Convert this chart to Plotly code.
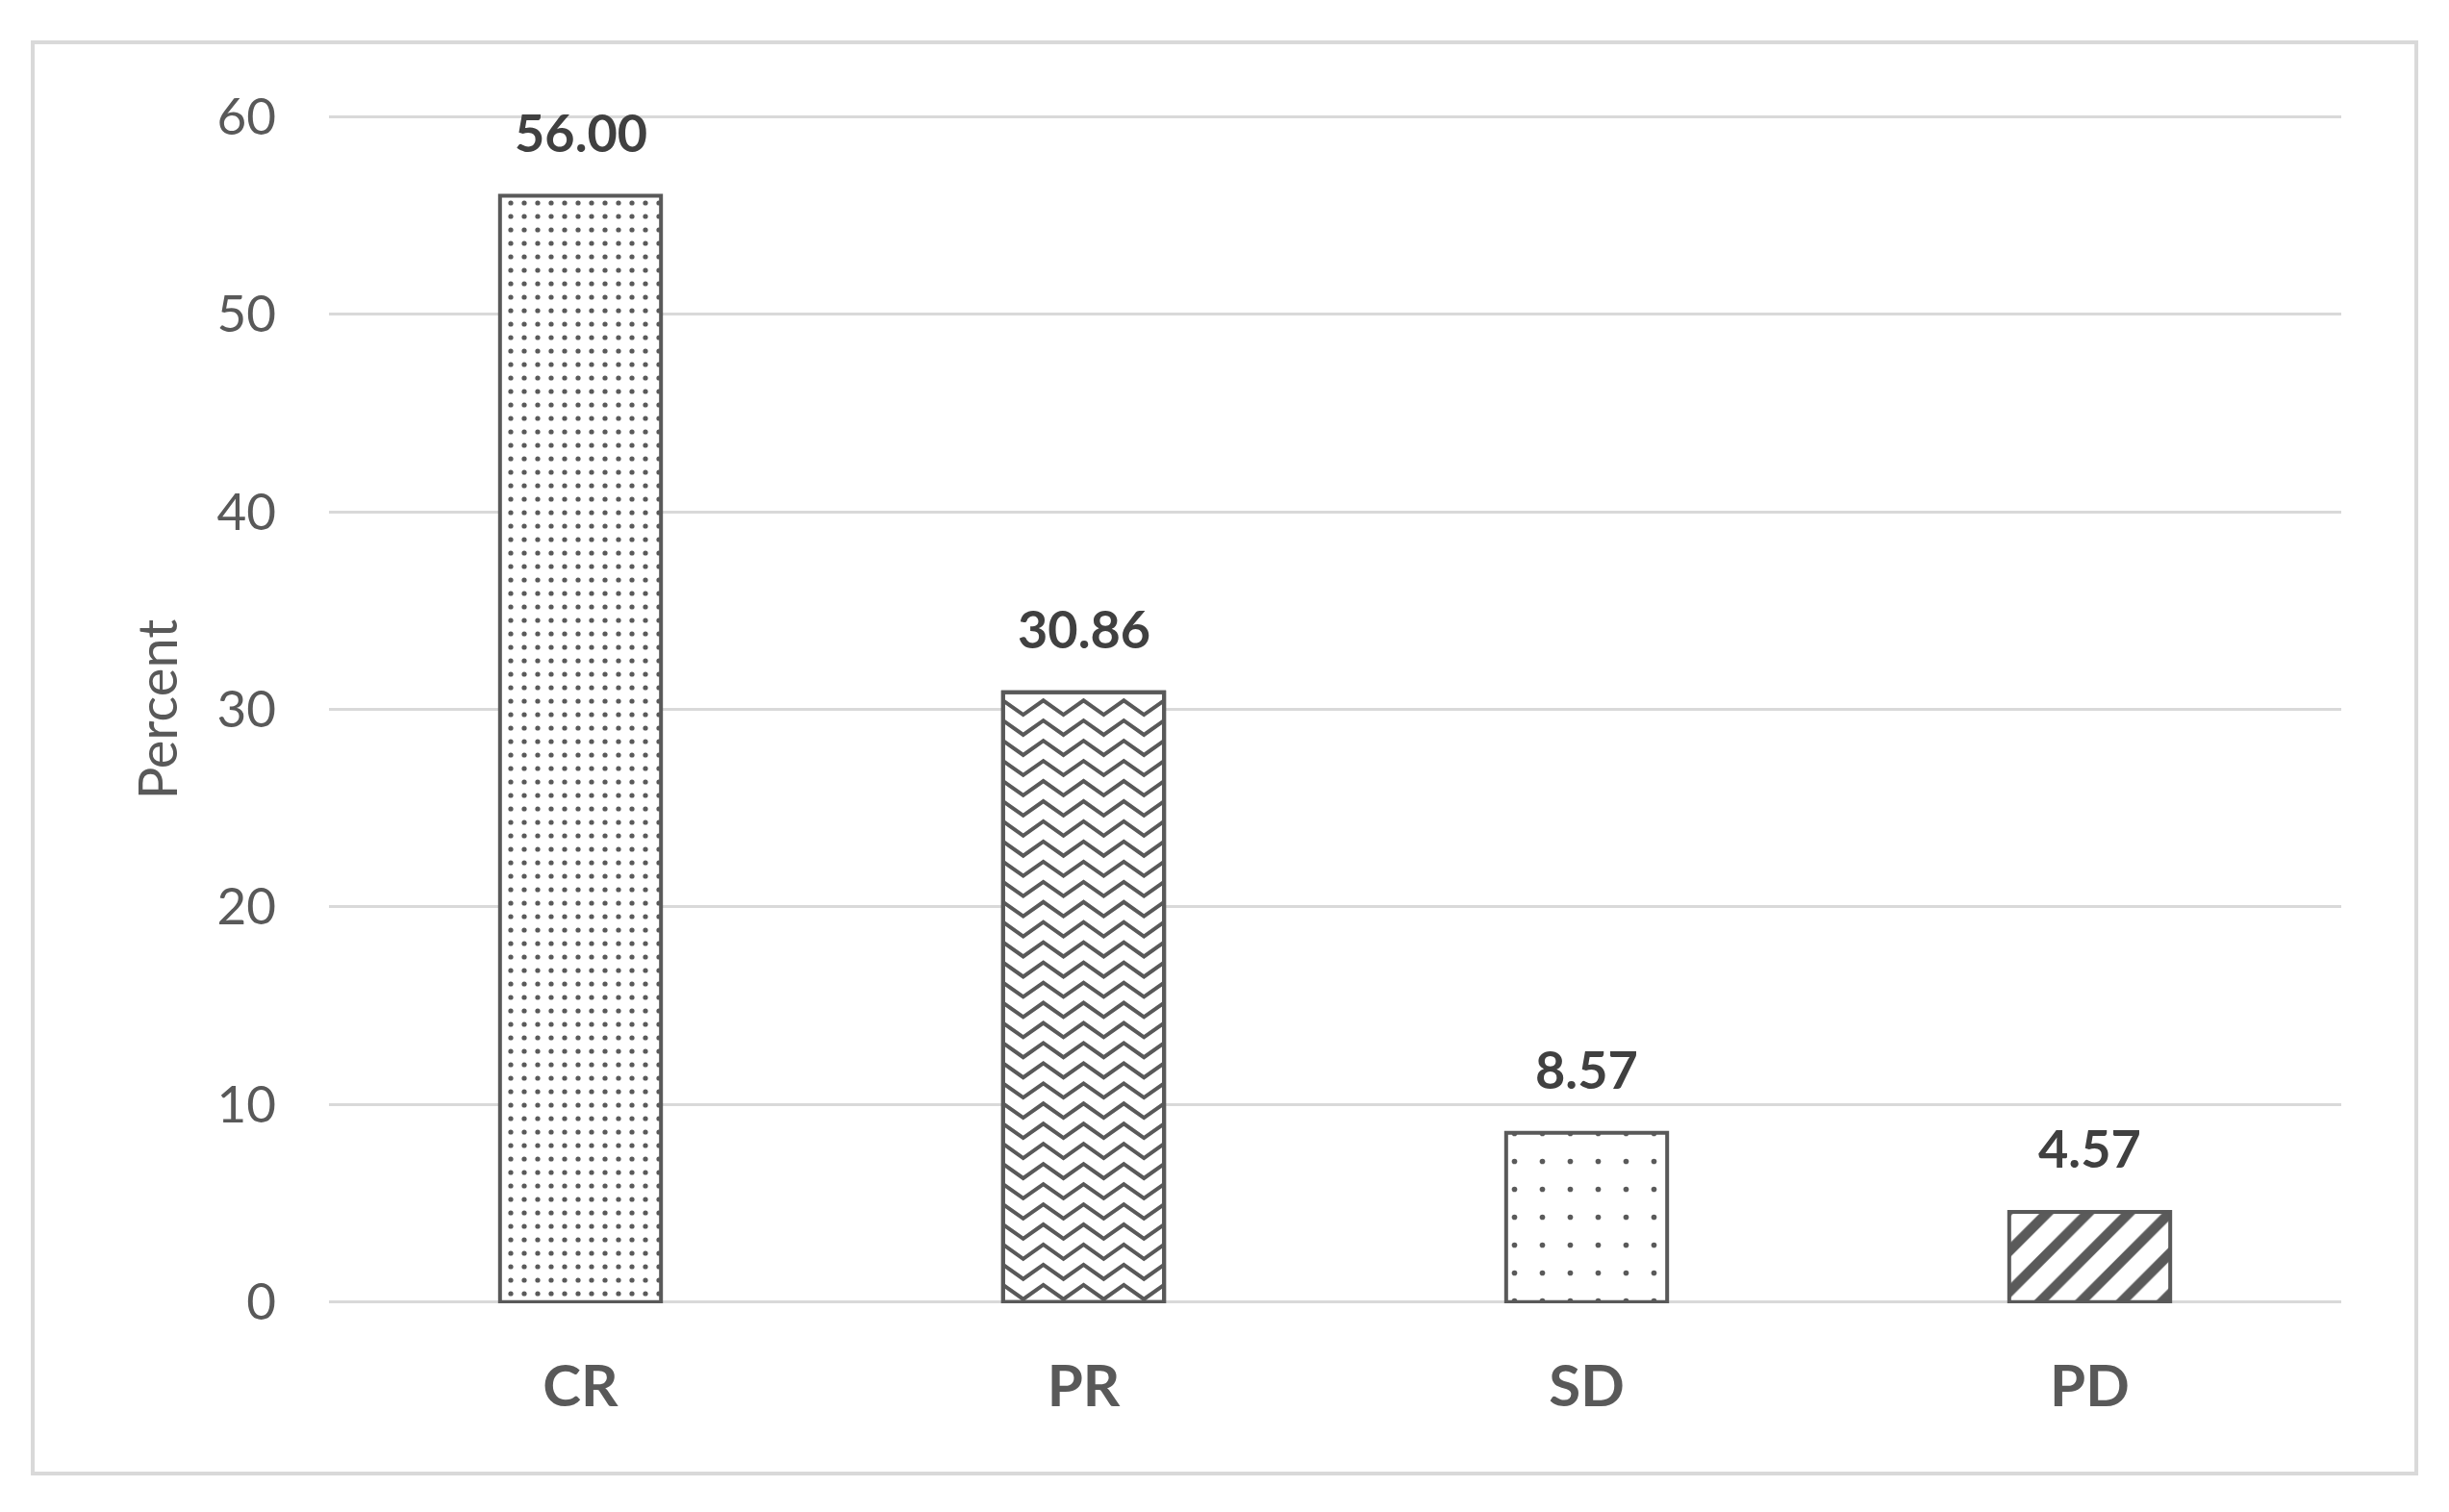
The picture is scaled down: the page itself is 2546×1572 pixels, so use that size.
import numpy as np
import plotly.graph_objects as go

# Data
categories = ["CR", "PR", "SD", "PD"]
percent = [56.00, 30.86, 8.57, 4.57]
labels = ["56.00", "30.86", "8.57", "4.57"]
y_ticks = [0, 10, 20, 30, 40, 50, 60]

# Fill patterns per bar ("zigzag" is drawn separately, plotly has none)
patterns = [".", "", ".", "/"]
pattern_sizes = [14, 10, 29, 30]
pattern_solidity = [0.11, 0.1, 0.03, 0.35]

dark = "#595959"
bar_width = 0.32
xpos = list(range(len(categories)))

fig = go.Figure()

fig.add_trace(go.Bar(
    x=xpos,
    y=percent,
    width=bar_width,
    marker=dict(
        color="white",
        line=dict(color=dark, width=4),
        pattern=dict(
            shape=patterns,
            size=pattern_sizes,
            solidity=pattern_solidity,
            fgcolor="#5a5a5a",
            fgopacity=1,
            bgcolor="white",
            fillmode="overlay",
        ),
    ),
    hoverinfo="x+y",
))

# zigzag texture for the PR bar, built from the bar's own value
i = categories.index("PR")
left, right = xpos[i] - bar_width / 2, xpos[i] + bar_width / 2
n_half = 8  # half-periods across the bar
zx = np.linspace(left, right, n_half + 1)
amp = 0.72
step = 1.02
zig_x, zig_y = [], []
level = 0.15
while level + amp <= percent[i] - 0.1:
    for k, xv in enumerate(zx):
        zig_x.append(xv)
        zig_y.append(level + (amp if k % 2 == 0 else 0))
    zig_x.append(None)
    zig_y.append(None)
    level += step
fig.add_trace(go.Scatter(
    x=zig_x, y=zig_y, mode="lines",
    line=dict(color=dark, width=4),
    hoverinfo="skip", showlegend=False,
))

# redraw outline of PR bar on top of the zigzag
fig.add_trace(go.Bar(
    x=[xpos[i]], y=[percent[i]], width=bar_width,
    marker=dict(color="rgba(0,0,0,0)", line=dict(color=dark, width=4)),
    hoverinfo="skip", showlegend=False,
))

# value labels above bars
for xv, yv, txt in zip(xpos, percent, labels):
    fig.add_annotation(
        x=xv, y=yv, text=txt, showarrow=False,
        yanchor="middle", yshift=66,
        font=dict(family="Lato", size=54, color="#404040", weight="bold"),
    )

# light border around the chart
fig.add_shape(
    type="rect", xref="paper", yref="paper",
    x0=-0.1472, x1=1.0373, y0=-0.1433, y1=1.0615,
    line=dict(color="#d9d9d9", width=4), layer="below",
)

fig.update_layout(
    width=2546,
    height=1572,
    margin=dict(l=334, r=120, t=112, b=225),
    paper_bgcolor="white",
    plot_bgcolor="white",
    showlegend=False,
    barmode="overlay",
    font=dict(family="Lato", color=dark),
    xaxis=dict(
        tickvals=xpos,
        ticktext=categories,
        range=[-0.5, 3.5],
        showgrid=False,
        zeroline=False,
        showline=False,
        ticks="",
        automargin=False,
        ticklabelstandoff=46,
        tickfont=dict(family="Lato", size=60, color=dark, weight="bold"),
    ),
    yaxis=dict(
        range=[-0.06, 60.06],
        tickvals=y_ticks,
        showgrid=True,
        gridcolor="#d9d9d9",
        gridwidth=3,
        zeroline=False,
        showline=False,
        ticks="",
        automargin=False,
        ticklabelstandoff=54,
        tickfont=dict(family="Lato", size=53, color=dark),
        title=dict(text="Percent", standoff=22,
                   font=dict(family="Lato", size=56, color=dark)),
    ),
)

fig.write_html("out.html")
